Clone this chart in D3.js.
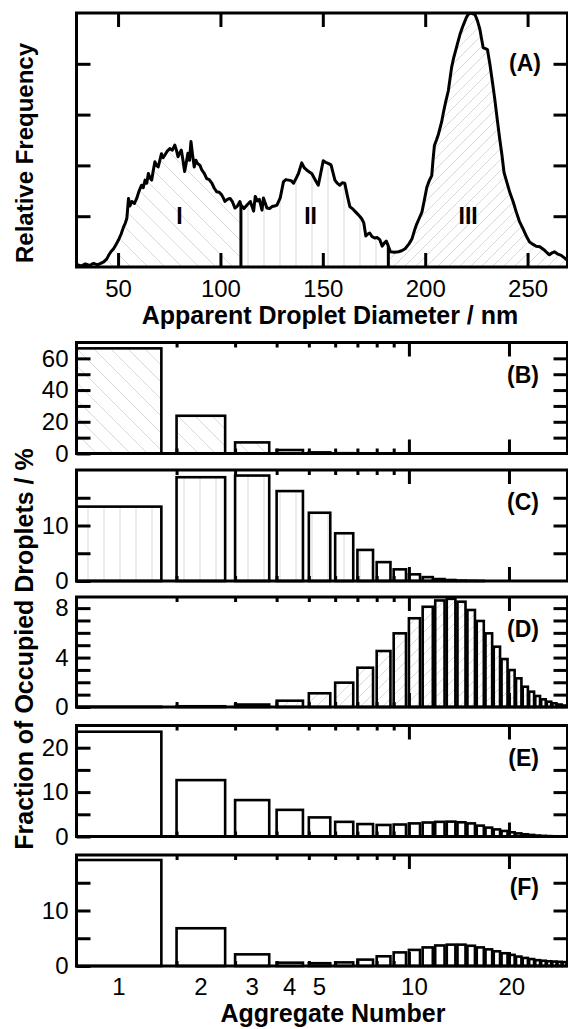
<!DOCTYPE html>
<html>
<head>
<meta charset="utf-8">
<script src="https://cdn.jsdelivr.net/npm/d3@7"></script>
<style>
  body { margin: 0; background: #fff; }
  text { font-family: "Liberation Sans", Arial, sans-serif; fill: #000; }
</style>
</head>
<body>
<div id="chart"></div>
<script>
// ---- panel A : apparent droplet diameter distribution (nm, relative frequency)
const diameter = [29.7, 32, 34, 36, 38, 40, 42, 43, 44.5, 45.4, 46.5, 47.8, 49, 50.2, 51.5, 52.7, 53.5, 54.3, 55.1, 55.8,
  56.7, 58, 59.1, 60.3, 61.5, 62.3, 63.2, 64, 64.8, 65.6, 66.4, 67.2, 68, 68.8, 69.6, 70.4, 71.2, 72, 72.8, 74,
  75.3, 76.5, 77.7, 78.5, 79.3, 80.1, 80.9, 81.7, 82.5, 83.3, 84.1, 84.9, 85.6, 86.4, 87.2, 88, 88.8, 90, 90.9, 92,
  93.3, 94.5, 95.8, 97, 98.2, 99.4, 100.6, 101.4, 102.2, 103.4, 104.7, 105.9, 107.1, 108.3, 109.5, 110, 111.5, 113, 114.6, 116.2,
  117, 118, 119, 120.3, 121, 122.7, 124, 125.2, 126.4, 127.6, 129.2, 130.8, 132, 133.2, 134.5, 135.7, 137, 138.1, 139.7, 141,
  142.1, 143.4, 144.6, 146.2, 147.8, 149, 150.2, 151.4, 152.6, 154, 155.9, 157, 158.3, 159.5, 160.7, 162, 163.2, 164.4, 165.6, 166.8,
  168, 169, 170, 171, 172, 172.9, 174, 175.3, 176.5, 177.8, 179, 180, 181, 182, 183, 185, 187, 188.5, 190.2, 192,
  193.5, 195, 195.9, 197, 198.4, 199.5, 200.8, 202, 203.2, 203.8, 204.5, 205.5, 206.5, 208, 208.9, 210, 211.3, 212.1, 212.9, 213.8,
  214.6, 215.8, 217, 218.2, 219.4, 220.2, 221, 222.5, 224.3, 225.5, 226.7, 227.5, 228.3, 229.4, 230.4, 231.6, 232.8, 234, 235.2, 236.4,
  237.5, 238.5, 240, 241.3, 243, 244.5, 246, 247.8, 249.5, 251, 252.5, 254.2, 256, 258.3, 259.5, 260.7, 262, 263.1, 264.5, 266.4,
  268, 269.5];
const relFreq = [0.05, 0.02, 0.06, 0.03, 0.07, 0.04, 0.08, 0.1, 0.16, 0.23, 0.3, 0.36, 0.44, 0.53, 0.65, 0.79, 0.86, 0.96, 1.35, 1.2,
  1.29, 1.25, 1.35, 1.5, 1.61, 1.56, 1.71, 1.65, 1.84, 1.75, 1.71, 1.9, 2.07, 2.0, 1.97, 2.1, 2.23, 2.15, 2.2, 2.28,
  2.33, 2.3, 2.4, 2.3, 2.17, 2.25, 2.3, 2.1, 1.88, 2.05, 2.24, 2.1, 2.47, 2.2, 1.97, 2.1, 2.04, 2.0, 1.91, 1.85,
  1.74, 1.72, 1.65, 1.55, 1.48, 1.47, 1.42, 1.36, 1.29, 1.33, 1.35, 1.28, 1.16, 1.2, 1.29, 1.22, 1.15, 1.22, 1.29, 1.1,
  1.39, 1.3, 1.33, 1.12, 1.36, 1.16, 1.15, 1.19, 1.2, 1.22, 1.36, 1.68, 1.72, 1.71, 1.7, 1.65, 1.75, 1.84, 2.05, 1.95,
  1.91, 1.87, 1.84, 1.72, 1.61, 1.85, 2.09, 2.06, 2.04, 2.01, 1.71, 1.65, 1.61, 1.66, 1.65, 1.4, 1.19, 1.15, 1.1, 1.05,
  1.0, 0.95, 0.87, 0.61, 0.65, 0.67, 0.6, 0.57, 0.58, 0.54, 0.41, 0.47, 0.51, 0.41, 0.3, 0.29, 0.3, 0.32, 0.36, 0.45,
  0.55, 0.75, 0.85, 0.95, 1.08, 1.3, 1.57, 1.7, 1.8, 2.1, 2.39, 2.5, 2.62, 2.85, 3.04, 3.25, 3.47, 3.7, 3.93, 4.1,
  4.22, 4.4, 4.58, 4.72, 4.84, 4.92, 4.97, 5.0, 4.97, 4.85, 4.68, 4.5, 4.32, 4.3, 4.28, 3.99, 3.65, 3.3, 2.9, 2.52,
  2.2, 1.86, 1.65, 1.47, 1.28, 1.08, 0.9, 0.75, 0.6, 0.49, 0.45, 0.41, 0.4, 0.33, 0.28, 0.24, 0.28, 0.3, 0.26, 0.23,
  0.18, 0.13];
const regionBounds = [29.7, 110, 182, 269.5];
const regionNames = ['I', 'II', 'III'];
const regionLabelAt = [80, 144, 221];
const diamTicks = [50, 100, 150, 200, 250];
const freqTicks = [1, 2, 3, 4];

// ---- panels B-F : fraction of occupied droplets (%) vs aggregate number
const aggNumber = [1, 2, 3, 4, 5, 6, 7, 8, 9, 10, 11, 12, 13, 14, 15, 16, 17, 18, 19, 20, 21, 22, 23, 24, 25, 26, 27, 28, 29];
const fracB = [66.3, 23.8, 7.0, 2.2, 0.7, 0.2, 0.05, 0.01];
const fracC = [13.4, 18.7, 19.0, 16.2, 12.3, 8.6, 5.6, 3.4, 2.1, 1.2, 0.7, 0.35, 0.18, 0.08, 0.04, 0.02];
const fracD = [0.02, 0.06, 0.2, 0.51, 1.11, 1.97, 3.18, 4.53, 5.96, 7.18, 8.11, 8.62, 8.75, 8.52, 7.85, 6.96, 5.96, 4.88, 3.88, 2.99,
  2.32, 1.64, 1.24, 0.89, 0.62, 0.43, 0.3, 0.2, 0.12];
const fracE = [23.6, 12.7, 8.2, 6.0, 4.3, 3.3, 2.8, 2.6, 2.7, 2.95, 3.15, 3.3, 3.35, 3.2, 2.95, 2.45, 2.0, 1.6, 1.25, 0.95,
  0.7, 0.5, 0.35, 0.22, 0.14, 0.09, 0.05, 0.03, 0.02];
const fracF = [19.1, 6.8, 2.1, 0.6, 0.5, 0.65, 1.15, 1.75, 2.45, 2.9, 3.35, 3.7, 3.85, 3.85, 3.65, 3.35, 3.0, 2.65, 2.3, 2.0,
  1.7, 1.45, 1.25, 1.05, 0.95, 0.85, 0.8, 0.75, 0.7];
const aggLabels = [1, 2, 3, 4, 5, 10, 20];
const aggMinorTicks = [2, 3, 4, 5, 6, 7, 8, 9];
const aggMajorTicks = [10, 20];

// ---- layout
const W = 568, H = 1029;
const left = 76.5, right = 567.5;
const tickFont = '24px';

const svg = d3.select('#chart').append('svg')
  .attr('width', W).attr('height', H)
  .attr('viewBox', `0 0 ${W} ${H}`);

const defs = svg.append('defs');
function hatch(id, size, d) {
  defs.append('pattern')
    .attr('id', id)
    .attr('patternUnits', 'userSpaceOnUse')
    .attr('width', size).attr('height', size)
    .append('path')
      .attr('d', d)
      .attr('fill', 'none')
      .attr('stroke', '#dadada')
      .attr('stroke-width', 1);
}
hatch('hatchBack', 17, 'M0,0L17,17M-1,16L1,18M16,-1L18,1');   // "\"
hatch('hatchVert', 16, 'M8,0V16');                               // "|"
hatch('hatchFwd', 11, 'M0,11L11,0M-1,1L1,-1M10,12L12,10');        // "/"
const fills = ['url(#hatchBack)', 'url(#hatchVert)', 'url(#hatchFwd)'];

// style an axis group: thick ticks, no domain
function styleAxis(g) {
  g.select('.domain').remove();
  g.selectAll('.tick line').attr('stroke', '#000').attr('stroke-width', 3);
  g.selectAll('.tick text').attr('font-size', tickFont).attr('font-family', null);
}

// ================= panel A =================
const aTop = 13, aBottom = 267;
const xA = d3.scaleLinear().domain([29.7, 269.5]).range([left, right]);
const yA = d3.scaleLinear().domain([0, 5]).range([aBottom, aTop]);
const pts = diameter.map((d, i) => ({d: d, f: relFreq[i]}));

defs.append('clipPath').attr('id', 'clipA')
  .append('rect').attr('x', left).attr('y', aTop).attr('width', right - left).attr('height', aBottom - aTop);

const gA = svg.append('g');
const plotA = gA.append('g').attr('clip-path', 'url(#clipA)');

const area = d3.area().x(p => xA(p.d)).y0(yA(0)).y1(p => yA(p.f));
regionNames.forEach((name, i) => {
  const lo = regionBounds[i], hi = regionBounds[i + 1];
  plotA.append('path')
    .datum(pts.filter(p => p.d >= lo && p.d <= hi))
    .attr('d', area)
    .attr('fill', fills[i]);
});

// boundaries between the three populations
[regionBounds[1], regionBounds[2]].forEach(b => {
  const p = pts.find(q => q.d === b);
  plotA.append('line')
    .attr('x1', xA(b)).attr('x2', xA(b))
    .attr('y1', yA(0)).attr('y2', yA(p.f))
    .attr('stroke', '#000').attr('stroke-width', 3);
});

plotA.append('path')
  .datum(pts)
  .attr('d', d3.line().x(p => xA(p.d)).y(p => yA(p.f)))
  .attr('fill', 'none')
  .attr('stroke', '#000')
  .attr('stroke-width', 3)
  .attr('stroke-linejoin', 'round');

regionNames.forEach((name, i) => {
  gA.append('text')
    .attr('x', xA(regionLabelAt[i]))
    .attr('y', yA(1))
    .attr('dy', '0.35em')
    .attr('text-anchor', 'middle')
    .attr('font-size', '23px')
    .attr('font-weight', 'bold')
    .text(name);
});

gA.append('g').attr('transform', `translate(0,${aBottom})`)
  .call(d3.axisBottom(xA).tickValues(diamTicks).tickSize(-14).tickPadding(13))
  .call(styleAxis);
gA.append('g').attr('transform', `translate(0,${aTop})`)
  .call(d3.axisTop(xA).tickValues(diamTicks).tickSize(-14).tickFormat(''))
  .call(styleAxis);
gA.append('g').attr('transform', `translate(${left},0)`)
  .call(d3.axisLeft(yA).tickValues(freqTicks).tickSize(-14).tickFormat(''))
  .call(styleAxis);
gA.append('g').attr('transform', `translate(${right},0)`)
  .call(d3.axisRight(yA).tickValues(freqTicks).tickSize(-14).tickFormat(''))
  .call(styleAxis);

gA.append('rect')
  .attr('x', left).attr('y', aTop).attr('width', right - left).attr('height', aBottom - aTop)
  .attr('fill', 'none').attr('stroke', '#000').attr('stroke-width', 3);

gA.append('text')
  .attr('x', 541).attr('y', aTop + 58)
  .attr('text-anchor', 'end').attr('font-size', '23px').attr('font-weight', 'bold')
  .text('(A)');

svg.append('text')
  .attr('x', 330).attr('y', 324)
  .attr('text-anchor', 'middle').attr('font-size', '25px').attr('font-weight', 'bold')
  .text('Apparent Droplet Diameter / nm');

svg.append('text')
  .attr('transform', 'translate(33,153) rotate(-90)')
  .attr('text-anchor', 'middle').attr('font-size', '24px').attr('font-weight', 'bold')
  .text('Relative Frequency');

// ================= panels B-F =================
const xN = d3.scaleLog().domain([1, 30]).range([left, right]);
const barWidth = 0.8;   // each bar spans [n, n + 0.8] on the log axis

const panels = [
  {name: '(B)', values: fracB, yMax: 70,  step: 10, labels: [0, 20, 40, 60], fill: fills[0], top: 342.5, bottom: 453.5},
  {name: '(C)', values: fracC, yMax: 20,  step: 5,  labels: [0, 10],         fill: fills[1], top: 470,   bottom: 581},
  {name: '(D)', values: fracD, yMax: 8.9, step: 1,  labels: [0, 4, 8],       fill: fills[2], top: 597,   bottom: 707},
  {name: '(E)', values: fracE, yMax: 25,  step: 5,  labels: [0, 10, 20],     fill: '#fff',   top: 725.5, bottom: 836.5},
  {name: '(F)', values: fracF, yMax: 20,  step: 5,  labels: [0, 10],         fill: '#fff',   top: 855,   bottom: 966}
];

panels.forEach(p => {
  const y = d3.scaleLinear().domain([0, p.yMax]).range([p.bottom, p.top]);
  const g = svg.append('g');
  const bars = p.values.map((v, i) => ({n: aggNumber[i], v: v}));

  g.selectAll('rect.bar')
    .data(bars)
    .join('rect')
      .attr('class', 'bar')
      .attr('x', d => xN(d.n))
      .attr('width', d => xN(d.n + barWidth) - xN(d.n))
      .attr('y', d => y(d.v))
      .attr('height', d => y(0) - y(d.v))
      .attr('fill', p.fill)
      .attr('stroke', '#000')
      .attr('stroke-width', 2.6);

  const yTicks = d3.range(0, p.yMax, p.step).filter(t => t > 0);
  g.append('g').attr('transform', `translate(${left},0)`)
    .call(d3.axisLeft(y).tickValues([0].concat(yTicks)).tickSize(-14).tickPadding(8)
      .tickFormat(t => p.labels.includes(t) ? t : ''))
    .call(styleAxis);
  g.append('g').attr('transform', `translate(${right},0)`)
    .call(d3.axisRight(y).tickValues(yTicks).tickSize(-14).tickFormat(''))
    .call(styleAxis);

  [[aggMinorTicks, 5], [aggMajorTicks, 14]].forEach(([vals, len]) => {
    g.append('g').attr('transform', `translate(0,${p.bottom})`)
      .call(d3.axisBottom(xN).tickValues(vals).tickSize(-len).tickFormat(''))
      .call(styleAxis);
    g.append('g').attr('transform', `translate(0,${p.top})`)
      .call(d3.axisTop(xN).tickValues(vals).tickSize(-len).tickFormat(''))
      .call(styleAxis);
  });

  g.append('rect')
    .attr('x', left).attr('y', p.top).attr('width', right - left).attr('height', p.bottom - p.top)
    .attr('fill', 'none').attr('stroke', '#000').attr('stroke-width', 3);

  g.append('text')
    .attr('x', 539).attr('y', p.top + 40)
    .attr('text-anchor', 'end').attr('font-size', '23px').attr('font-weight', 'bold')
    .text(p.name);
});

// aggregate number labels sit under the bar centres
const lastPanel = panels[panels.length - 1];
svg.append('g').selectAll('text')
  .data(aggLabels)
  .join('text')
    .attr('x', n => xN(Math.sqrt(n * (n + barWidth))))
    .attr('y', lastPanel.bottom + 29)
    .attr('text-anchor', 'middle')
    .attr('font-size', tickFont)
    .text(n => n);

svg.append('text')
  .attr('x', 333).attr('y', 1022)
  .attr('text-anchor', 'middle').attr('font-size', '25px').attr('font-weight', 'bold')
  .text('Aggregate Number');

svg.append('text')
  .attr('transform', 'translate(33,649) rotate(-90)')
  .attr('text-anchor', 'middle').attr('font-size', '25px').attr('font-weight', 'bold')
  .text('Fraction of Occupied Droplets / %');
</script>
</body>
</html>
